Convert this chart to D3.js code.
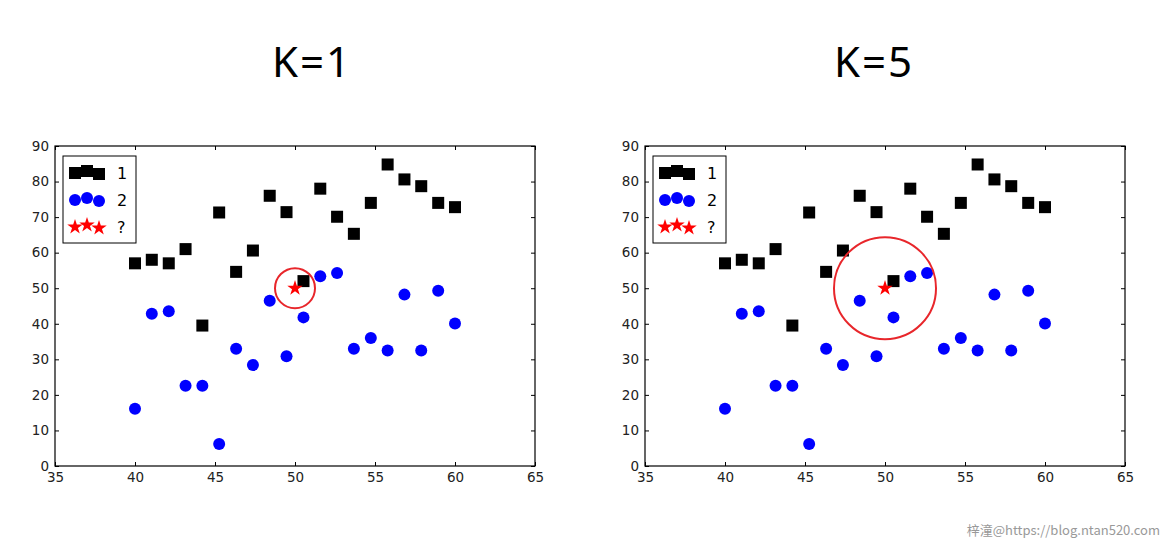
<!DOCTYPE html>
<html>
<head>
<meta charset="utf-8">
<script src="https://cdn.jsdelivr.net/npm/d3@7"></script>
<style>
  html, body { margin: 0; padding: 0; background: #fff; }
  svg { display: block; }
</style>
</head>
<body>
<svg id="chart" width="1170" height="548"></svg>
<script>
// ---- data ----
const xValues = [40, 41.05, 42.11, 43.16, 44.21, 45.26, 46.32, 47.37, 48.42, 49.47,
                 50.53, 51.58, 52.63, 53.68, 54.74, 55.79, 56.84, 57.89, 58.95, 60];
const class1Y = [57, 58, 57, 61, 39.5, 71.3, 54.6, 60.6, 76, 71.4,
                 52, 78, 70.1, 65.3, 74, 84.8, 80.6, 78.7, 74, 72.8];
const class2Y = [16.1, 42.8, 43.5, 22.6, 22.6, 6.2, 33, 28.4, 46.5, 30.9,
                 41.8, 53.4, 54.3, 33, 36, 32.5, 48.2, 32.5, 49.3, 40.1];
const queryPoint = [50, 50];
const xTicks = [35, 40, 45, 50, 55, 60, 65];
const yTicks = [0, 10, 20, 30, 40, 50, 60, 70, 80, 90];
const legendLabels = ["1", "2", "?"];
const panels = [
  { title: "K=1", k: 1, left: 55, titleX: 312, circleR: 20 },
  { title: "K=5", k: 5, left: 645, titleX: 874, circleR: 51 }
];

const svg = d3.select("#chart");
svg.append("rect").attr("width", 1170).attr("height", 548).attr("fill", "#fff");

const plotW = 480, plotTop = 146, plotH = 320;
const tickFont = "DejaVu Sans, sans-serif";

function drawPanel(p) {
  const g = svg.append("g");
  const x = d3.scaleLinear().domain([35, 65]).range([p.left, p.left + plotW]);
  const y = d3.scaleLinear().domain([0, 90]).range([plotTop + plotH, plotTop]);

  // title
  g.append("text").attr("x", p.titleX).attr("y", 77)
    .attr("text-anchor", "middle")
    .attr("font-family", "Noto Sans, Open Sans, sans-serif")
    .attr("font-size", 42).attr("letter-spacing", 2)
    .attr("fill", "#000").text(p.title);

  // axes
  const axB = d3.axisBottom(x).tickValues(xTicks).tickSize(-4).tickPadding(6);
  const axT = d3.axisTop(x).tickValues(xTicks).tickSize(-4).tickFormat("");
  const axL = d3.axisLeft(y).tickValues(yTicks).tickSize(-4).tickPadding(6);
  const axR = d3.axisRight(y).tickValues(yTicks).tickSize(-4).tickFormat("");
  const gb = g.append("g").attr("transform", `translate(0,${plotTop + plotH})`).call(axB);
  const gt = g.append("g").attr("transform", `translate(0,${plotTop})`).call(axT);
  const gl = g.append("g").attr("transform", `translate(${p.left},0)`).call(axL);
  const gr = g.append("g").attr("transform", `translate(${p.left + plotW},0)`).call(axR);
  [gb, gt, gl, gr].forEach(a => {
    a.select(".domain").remove();
    a.selectAll(".tick line").attr("stroke", "#000").attr("stroke-width", 1);
    a.selectAll(".tick text").attr("font-family", tickFont).attr("font-size", 13.5).attr("fill", "#222");
  });

  // markers
  const sq = 12;
  g.append("g").selectAll("rect").data(xValues.map((v, i) => [v, class1Y[i]]))
    .join("rect")
    .attr("x", d => x(d[0]) - sq / 2).attr("y", d => y(d[1]) - sq / 2)
    .attr("width", sq).attr("height", sq).attr("fill", "#000");

  g.append("g").selectAll("circle").data(xValues.map((v, i) => [v, class2Y[i]]))
    .join("circle")
    .attr("cx", d => x(d[0])).attr("cy", d => y(d[1]))
    .attr("r", 6).attr("fill", "#0000ff");

  const star = d3.symbol().type(d3.symbolStar).size(74);
  g.append("path").attr("d", star())
    .attr("transform", `translate(${x(queryPoint[0])},${y(queryPoint[1])})`)
    .attr("fill", "#ff0000");

  g.append("circle").attr("cx", x(queryPoint[0])).attr("cy", y(queryPoint[1]))
    .attr("r", p.circleR).attr("fill", "none")
    .attr("stroke", "#e8262b").attr("stroke-width", 2);

  // frame
  g.append("rect").attr("x", p.left).attr("y", plotTop).attr("width", plotW).attr("height", plotH)
    .attr("fill", "none").attr("stroke", "#000").attr("stroke-width", 1.2);

  // legend
  const lx = p.left + 8, ly = plotTop + 10;
  const lg = g.append("g");
  lg.append("rect").attr("x", lx).attr("y", ly).attr("width", 73).attr("height", 87)
    .attr("fill", "#fff").attr("stroke", "#000").attr("stroke-width", 1);
  const offs = [0, -2, 1];
  const mx = [lx + 12, lx + 24, lx + 36];
  legendLabels.forEach((lab, r) => {
    const cy = ly + 17 + r * 27;
    mx.forEach((xx, j) => {
      const yy = cy + offs[j];
      if (r === 0) {
        lg.append("rect").attr("x", xx - sq / 2).attr("y", yy - sq / 2)
          .attr("width", sq).attr("height", sq).attr("fill", "#000");
      } else if (r === 1) {
        lg.append("circle").attr("cx", xx).attr("cy", yy).attr("r", 6).attr("fill", "#0000ff");
      } else {
        lg.append("path").attr("d", star()).attr("transform", `translate(${xx},${yy})`).attr("fill", "#ff0000");
      }
    });
    lg.append("text").attr("x", lx + 54).attr("y", cy + 6)
      .attr("font-family", tickFont).attr("font-size", 16).attr("fill", "#000").text(lab);
  });
}

panels.forEach(drawPanel);

// watermark
svg.append("text").attr("x", 1160).attr("y", 535).attr("text-anchor", "end")
  .attr("font-family", "Noto Sans CJK SC, sans-serif").attr("font-size", 13)
  .attr("fill", "#999").text("梓潼@https://blog.ntan520.com");
</script>
</body>
</html>
